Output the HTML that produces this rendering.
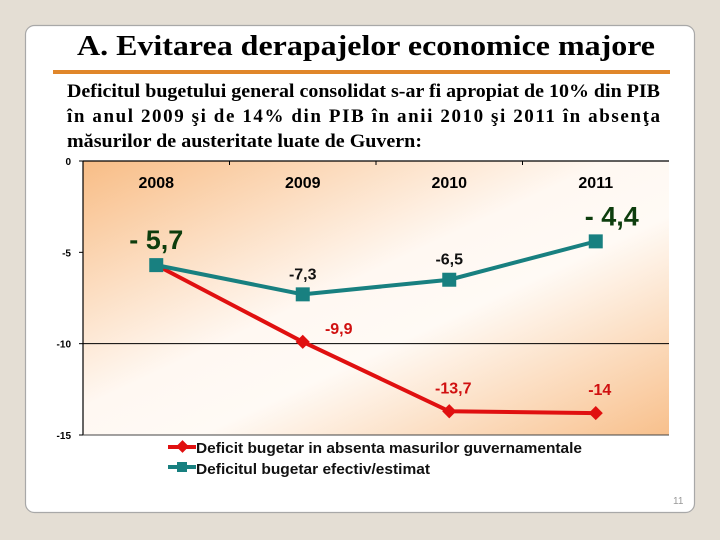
<!DOCTYPE html>
<html><head><meta charset="utf-8"><style>
html,body{margin:0;padding:0;background:#e4ded4;}
svg{display:block;font-family:"Liberation Sans",Arial,sans-serif;}
</style></head><body>
<svg id="chart" width="720" height="540" viewBox="0 0 720 540" xmlns="http://www.w3.org/2000/svg">
<defs>
<linearGradient id="bg" x1="0" y1="0" x2="1" y2="1">
<stop offset="0" stop-color="#f8bd86"/>
<stop offset="0.45" stop-color="#fff8f2"/>
<stop offset="0.6" stop-color="#fffaf5"/>
<stop offset="1" stop-color="#f8c08c"/>
</linearGradient>
</defs>
<rect x="0" y="0" width="720" height="540" fill="#e4ded4"/>
<rect x="25.5" y="25.5" width="669" height="487" rx="9" fill="#fff" stroke="#a8a8a8" stroke-width="1.2"/>
<text x="77" y="55" font-family="Liberation Serif,serif" font-weight="bold" font-size="28" textLength="578" lengthAdjust="spacingAndGlyphs">A. Evitarea derapajelor economice majore</text>
<rect x="53" y="70" width="617" height="4" fill="#e0862a"/>
<g font-family="Liberation Serif,serif" font-weight="bold" font-size="19" fill="#000">
<text x="67" y="97" textLength="593" lengthAdjust="spacingAndGlyphs">Deficitul bugetului general consolidat s-ar fi apropiat de 10% din PIB</text>
<text x="67" y="122" textLength="593" lengthAdjust="spacing">în anul 2009 şi de 14% din PIB în anii 2010 şi 2011 în absenţa</text>
<text x="67" y="147" textLength="355" lengthAdjust="spacingAndGlyphs">măsurilor de austeritate luate de Guvern:</text>
</g>
<rect x="83" y="161" width="586" height="274" fill="url(#bg)"/>
<g id="axes"></g>
<g id="series"></g>
<g>
<line x1="168" y1="447" x2="196" y2="447" stroke="#e01010" stroke-width="4"/>
<rect x="178" y="442" width="9" height="9" fill="#e01010" transform="rotate(45 182.5 446.5)"/>
<text x="196" y="453" font-size="15" font-weight="bold" fill="#111" textLength="386" lengthAdjust="spacingAndGlyphs">Deficit bugetar in absenta masurilor guvernamentale</text>
<line x1="168" y1="467" x2="196" y2="467" stroke="#188080" stroke-width="4"/>
<rect x="177" y="462" width="10" height="10" fill="#188080"/>
<text x="196" y="474" font-size="15" font-weight="bold" fill="#111" textLength="234" lengthAdjust="spacingAndGlyphs">Deficitul bugetar efectiv/estimat</text>
</g>
<text x="673" y="504" font-size="10" fill="#999">11</text>
</svg>
<script>
const categories = ["2008","2009","2010","2011"];
const effective = [-5.7,-7.3,-6.5,-4.4];
const effectiveLabels = ["- 5,7","-7,3","-6,5","- 4,4"];
const noMeasures = [-5.7,-9.9,-13.7,-13.8];
const noMeasuresLabels = ["","-9,9","-13,7","-14"];
const yTicks = [0,-5,-10,-15];

const NS="http://www.w3.org/2000/svg";
const X0=83,X1=669,Y0=161,Y1=435,YMIN=-15,YMAX=0;
const xs=i=>X0+(i+0.5)*(X1-X0)/categories.length;
const ys=v=>Y0+(YMAX-v)/(YMAX-YMIN)*(Y1-Y0);
function mk(tag,attrs,parent){const e=document.createElementNS(NS,tag);for(const k in attrs)e.setAttribute(k,attrs[k]);parent.appendChild(e);return e;}
const axes=document.getElementById('axes'),ser=document.getElementById('series');

let l=mk('line',{x1:X0,y1:Y0,x2:X0,y2:Y1,stroke:'#000','stroke-width':1.2},axes);


l=mk('line',{x1:X0,y1:Y0,x2:X1,y2:Y0,stroke:'#000','stroke-width':1.2},axes);


l=mk('line',{x1:X0,y1:Y1,x2:X1,y2:Y1,stroke:'#444','stroke-width':1},axes);


l=mk('line',{x1:X0,y1:ys(-10),x2:X1,y2:ys(-10),stroke:'#000','stroke-width':1},axes);


yTicks.forEach(v=>{
  const t=mk('line',{x1:X0-4,y1:ys(v),x2:X0,y2:ys(v),stroke:'#000'},axes);
  
  
  const tx=mk('text',{x:X0-12,y:ys(v)+4,'text-anchor':'end','font-size':10,'font-weight':'bold'},axes);
  tx.textContent=v;
  
  
});
for(let i=1;i<categories.length;i++){
  const xx=X0+i*(X1-X0)/categories.length;
  const t=mk('line',{x1:xx,y1:Y0,x2:xx,y2:Y0+4,stroke:'#000'},axes);
  
  
}
categories.forEach((c,i)=>{
  const tx=mk('text',{x:xs(i),y:188,'text-anchor':'middle','font-size':16,'font-weight':'bold'},axes);
  tx.textContent=c;
  
  
});

const pl=mk('polyline',{points:noMeasures.map((v,i)=>xs(i)+','+ys(v)).join(' '),fill:'none',stroke:'#e01010','stroke-width':4},ser);


const pt=mk('polyline',{points:effective.map((v,i)=>xs(i)+','+ys(v)).join(' '),fill:'none',stroke:'#188080','stroke-width':4},ser);



noMeasures.forEach((v,i)=>{
  if(i===0)return;
  const x=xs(i),y=ys(v);
  const d=mk('rect',{x:x-5,y:y-5,width:10,height:10,fill:'#e01010',transform:`rotate(45 ${x} ${y})`},ser);
  
  
  const tx=mk('text',{x:x+(i===1?36:4),y:y-(i===1?8:18),'text-anchor':'middle','font-size':16,'font-weight':'bold',fill:'#d01010'},ser);
  tx.textContent=noMeasuresLabels[i];
  
  
});
effective.forEach((v,i)=>{
  const x=xs(i),y=ys(v);
  const r=mk('rect',{x:x-7,y:y-7,width:14,height:14,fill:'#188080'},ser);
  
  
  const big=(i===0||i===3);
  const dx=i===0?0:(i===3?16:0);
  const tx=mk('text',{x:x+dx,y:big?y-16:y-15,'text-anchor':'middle','font-size':big?27:16,'font-weight':'bold',fill:big?'#0d3d0d':'#111'},ser);
  tx.textContent=effectiveLabels[i];
  
  
});
</script>
</body></html>
